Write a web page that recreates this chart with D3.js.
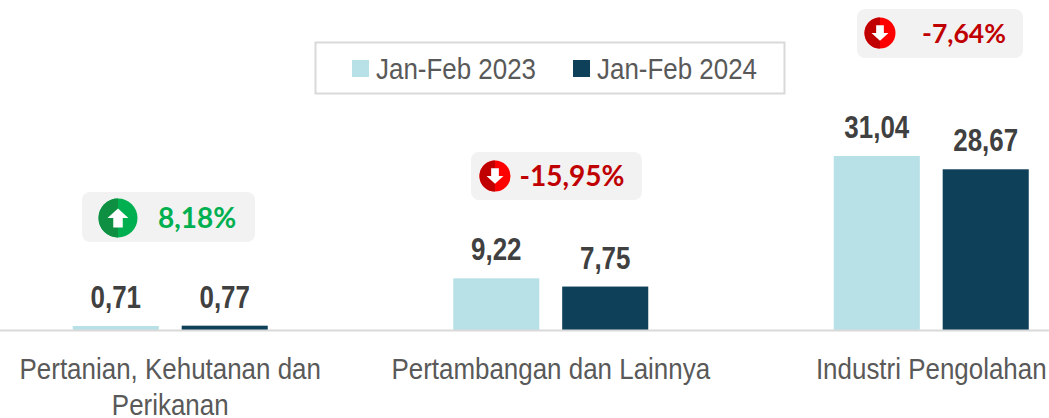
<!DOCTYPE html>
<html>
<head>
<meta charset="utf-8">
<script src="https://cdn.jsdelivr.net/npm/d3@7"></script>
<style>
html, body { margin: 0; padding: 0; background: #fff; }
svg { display: block; }
text { font-family: "Liberation Sans", sans-serif; }
</style>
</head>
<body>
<div id="chart"></div>
<script>
const categories = ["Pertanian, Kehutanan dan Perikanan", "Pertambangan dan Lainnya", "Industri Pengolahan"];
const series_names = ["Jan-Feb 2023", "Jan-Feb 2024"];
const values_2023 = [0.71, 9.22, 31.04];
const values_2024 = [0.77, 7.75, 28.67];
const growth = [8.18, -15.95, -7.64];

const width = 1049, height = 418, baseline = 330;
const colors = ["#b7e1e7", "#0f4059"];

const comma = v => d3.format(".2f")(v).replace(".", ",");

const svg = d3.select("#chart").append("svg")
  .attr("width", width)
  .attr("height", height);

const x_scale = d3.scaleBand().domain(categories).range([-20, 1121.5]);
const x_sub = d3.scaleBand().domain(series_names)
  .range([92.75, 287.75])
  .paddingInner(0.21);
const y_scale = d3.scaleLinear().domain([0, 31.04]).range([baseline, 156]);

// bars
const rows = categories.map((c, i) => ({ c: c, v: [values_2023[i], values_2024[i]] }));
const groups = svg.selectAll("g.group")
  .data(rows)
  .enter()
  .append("g")
  .attr("class", "group")
  .attr("transform", d => "translate(" + x_scale(d.c) + ",0)");

groups.selectAll("rect")
  .data(d => d.v.map((v, i) => ({ v: v, s: series_names[i], i: i })))
  .enter()
  .append("rect")
  .attr("x", d => x_sub(d.s))
  .attr("y", d => y_scale(d.v))
  .attr("width", x_sub.bandwidth())
  .attr("height", d => baseline - y_scale(d.v))
  .attr("fill", d => colors[d.i]);

// narrow look: no narrow font installed, so squeeze Liberation Sans
groups.selectAll("text.value")
  .data(d => d.v.map((v, i) => ({ v: v, s: series_names[i] })))
  .enter()
  .append("text")
  .attr("class", "value")
  .attr("transform", d => "translate(" + (x_sub(d.s) + x_sub.bandwidth() / 2) + "," + (y_scale(d.v) - 18) + ") scale(0.81,1)")
  .attr("text-anchor", "middle")
  .style("font-size", "32px")
  .style("font-weight", "bold")
  .style("fill", "#404040")
  .text(d => comma(d.v));

// axis line + category labels
const axis = svg.append("g")
  .attr("transform", "translate(0," + baseline + ")")
  .call(d3.axisBottom(x_scale).tickSize(0).tickPadding(0));
axis.select(".domain").remove();
svg.append("line")
  .attr("x1", 0).attr("x2", width)
  .attr("y1", baseline + 0.5).attr("y2", baseline + 0.5)
  .attr("stroke", "#d9d9d9")
  .attr("stroke-width", 2);

axis.selectAll(".tick text")
  .style("font-size", "30px")
  .style("font-family", '"Liberation Sans", sans-serif')
  .style("fill", "#595959")
  .attr("text-anchor", "middle")
  .attr("dy", null)
  .attr("transform", "scale(0.865,1)")
  .each(function(d) {
    const t = d3.select(this).text("").attr("y", 0);
    const lines = d === categories[0] ? ["Pertanian, Kehutanan dan", "Perikanan"] : [d];
    lines.forEach((l, i) => {
      t.append("tspan").attr("x", 0).attr("y", 49 + i * 36).text(l);
    });
  });

// legend
svg.append("rect")
  .attr("x", 315.5).attr("y", 42.5)
  .attr("width", 469).attr("height", 51)
  .attr("fill", "#fff")
  .attr("stroke", "#d9d9d9")
  .attr("stroke-width", 2);

const legend_x = [352, 573];
series_names.forEach((s, i) => {
  svg.append("rect")
    .attr("x", legend_x[i]).attr("y", 60)
    .attr("width", 17).attr("height", 17)
    .attr("fill", colors[i]);
  svg.append("text")
    .attr("transform", "translate(" + (legend_x[i] + 24) + ",79) scale(0.865,1)")
    .style("font-size", "30px")
    .style("fill", "#595959")
    .text(s);
});

// growth badges
const badge_box = [
  { x: 82, y: 192, w: 173, h: 50, cx: 118, cy: 218, r: 19.5, tx: 197, fs: 28, as: 0.95 },
  { x: 471, y: 152, w: 171, h: 48, cx: 495, cy: 176, r: 15.5, tx: 572, fs: 28, as: 0.77 },
  { x: 857, y: 9, w: 166, h: 49, cx: 880, cy: 33, r: 15.5, tx: 964, fs: 26.5, as: 0.77 }
];

growth.forEach((g, i) => {
  const b = badge_box[i];
  const up = g > 0;
  const light = up ? "#00b050" : "#ff0000";
  const dark = up ? "#0e8f42" : "#c00000";
  const text_col = up ? "#00b050" : "#c00000";
  const a = svg.append("g");
  a.append("rect")
    .attr("x", b.x).attr("y", b.y)
    .attr("width", b.w).attr("height", b.h)
    .attr("rx", 8)
    .attr("fill", "#f2f2f2");
  a.append("circle")
    .attr("cx", b.cx).attr("cy", b.cy).attr("r", b.r)
    .attr("fill", light);
  a.append("path")
    .attr("d", d3.arc()({ innerRadius: 0, outerRadius: b.r, startAngle: Math.PI, endAngle: 2 * Math.PI }))
    .attr("transform", "translate(" + b.cx + "," + b.cy + ")")
    .attr("fill", dark);
  const dir = up ? -1 : 1;
  a.append("path")
    .attr("d", "M-5,0V-10H5V0H11L0,10L-11,0Z")
    .attr("transform", "translate(" + b.cx + "," + b.cy + ") scale(" + b.as + "," + (dir * b.as) + ")")
    .attr("fill", "#fff");
  a.append("text")
    .attr("x", b.tx).attr("y", b.cy + 10)
    .attr("text-anchor", "middle")
    .style("font-family", "Lato, sans-serif")
    .style("font-size", b.fs + "px")
    .style("font-weight", "bold")
    .style("fill", text_col)
    .text((g < 0 ? "-" : "") + comma(Math.abs(g)) + "%");
});
</script>
</body>
</html>
